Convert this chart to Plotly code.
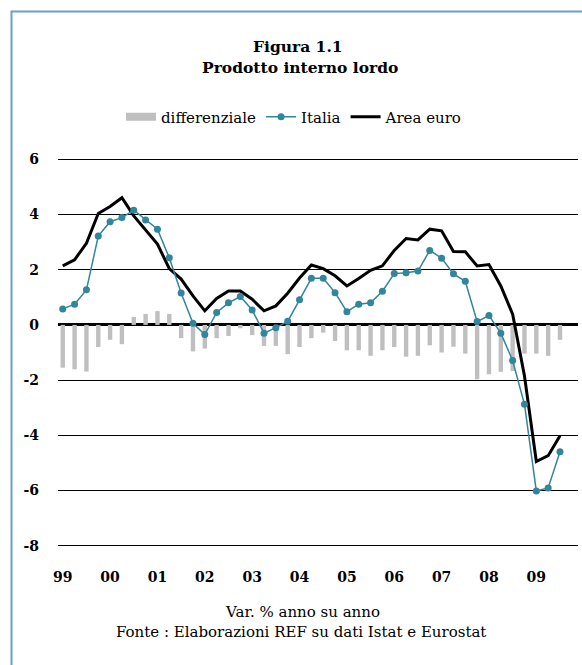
import plotly.graph_objects as go

years = ["99", "00", "01", "02", "03", "04", "05", "06", "07", "08", "09"]
quarters = [f"{y}-T{q}" for y in years for q in (1, 2, 3, 4)][:43]

italia = [0.58, 0.75, 1.27, 3.22, 3.74, 3.89, 4.16, 3.80, 3.47, 2.43, 1.16, 0.06,
          -0.35, 0.45, 0.80, 1.03, 0.54, -0.30, -0.10, 0.13, 0.91, 1.69, 1.69, 1.17,
          0.48, 0.75, 0.80, 1.22, 1.86, 1.89, 1.95, 2.70, 2.42, 1.85, 1.58, 0.12,
          0.34, -0.30, -1.29, -2.88, -6.02, -5.91, -4.60]
area_euro = [2.14, 2.36, 2.96, 4.04, 4.29, 4.61, 3.95, 3.43, 2.93, 2.04, 1.66, 1.05,
             0.51, 0.96, 1.23, 1.23, 0.93, 0.51, 0.69, 1.15, 1.70, 2.17, 2.04, 1.78,
             1.41, 1.68, 1.98, 2.14, 2.70, 3.13, 3.08, 3.47, 3.41, 2.66, 2.65, 2.14,
             2.19, 1.41, 0.39, -1.85, -4.95, -4.74, -4.02]
differenziale = [-1.55, -1.61, -1.69, -0.80, -0.54, -0.70, 0.29, 0.40, 0.50, 0.40, -0.48, -0.96,
                 -0.86, -0.48, -0.40, -0.12, -0.37, -0.76, -0.76, -1.06, -0.80, -0.48, -0.28, -0.58,
                 -0.92, -0.92, -1.12, -0.92, -0.80, -1.15, -1.12, -0.74, -1.00, -0.79, -1.04, -1.97,
                 -1.79, -1.70, -1.67, -1.04, -1.04, -1.12, -0.54]

y_ticks = [6, 4, 2, 0, -2, -4, -6, -8]
y_ticktext = ["6", "4", "2", "0", "-2", "-4", "-6", "-8"]

TEAL = "#31859C"
GRAY = "#BFBFBF"
SERIF = "DejaVu Serif"

W, H = 582, 665
ML, MR, MT, MB = 58, 4, 158, 118
PW, PH = W - ML - MR, H - MT - MB

def px(x):
    return (x - ML) / PW

def py(y):
    return (H - MB - y) / PH

fig = go.Figure()
fig.add_trace(go.Bar(x=quarters, y=differenziale, marker=dict(color=GRAY, line=dict(width=0)),
                     width=0.37, showlegend=False, name="differenziale"))
# legend proxy for bars (wide grey patch)
fig.add_trace(go.Scatter(x=[None], y=[None], mode="lines", line=dict(color=GRAY, width=8),
                         name="differenziale", legendrank=1))
fig.add_trace(go.Scatter(x=quarters, y=area_euro, mode="lines", line=dict(color="black", width=3),
                         name="Area euro", legendrank=3))
fig.add_trace(go.Scatter(x=quarters, y=italia, mode="lines+markers",
                         line=dict(color=TEAL, width=1.5), marker=dict(color=TEAL, size=7),
                         name="Italia", legendrank=2))

fig.update_layout(
    width=W, height=H,
    margin=dict(l=ML, r=MR, t=MT, b=MB),
    paper_bgcolor="white", plot_bgcolor="white",
    font=dict(family=SERIF, color="black", size=15),
    bargap=0.6,
    legend=dict(orientation="h", x=px(294), xanchor="center", y=py(117), yanchor="middle",
                font=dict(family=SERIF, size=15), itemwidth=30, tracegroupgap=0,
                bgcolor="rgba(0,0,0,0)"),
    xaxis=dict(
        type="category", categoryorder="array", categoryarray=quarters,
        range=[-0.40, 43.52],
        tickvals=[quarters[i] for i in range(0, 43, 4)], ticktext=years,
        showgrid=False, zeroline=False, showline=False, ticks="",
        tickfont=dict(family=SERIF, size=14, weight="bold"),
        ticklabelstandoff=20,
    ),
    yaxis=dict(
        range=[-8.05, 6.05], tickvals=y_ticks, ticktext=y_ticktext,
        showgrid=True, gridcolor="black", gridwidth=1.3,
        zeroline=True, zerolinecolor="black", zerolinewidth=2.5,
        showline=False, ticks="",
        tickfont=dict(family=SERIF, size=14, weight="bold"),
        ticklabelstandoff=18,
    ),
    annotations=[
        dict(text="<b>Figura 1.1</b>", x=px(298), y=py(46), xref="paper", yref="paper",
             showarrow=False, font=dict(family=SERIF, size=15.5), xanchor="center", yanchor="middle"),
        dict(text="<b>Prodotto interno lordo</b>", x=px(300), y=py(68), xref="paper", yref="paper",
             showarrow=False, font=dict(family=SERIF, size=15.5), xanchor="center", yanchor="middle"),
        dict(text="Var. % anno su anno", x=px(302), y=py(612), xref="paper", yref="paper",
             showarrow=False, font=dict(family=SERIF, size=15), xanchor="center", yanchor="middle"),
        dict(text="Fonte : Elaborazioni REF su dati Istat e Eurostat", x=px(301), y=py(632),
             xref="paper", yref="paper", showarrow=False, font=dict(family=SERIF, size=15),
             xanchor="center", yanchor="middle"),
    ],
    shapes=[
        dict(type="path", xref="paper", yref="paper",
             path=f"M {px(11.5)} {py(670)} L {px(11.5)} {py(11.5)} L {px(590)} {py(11.5)}",
             line=dict(color="#6F9BD1", width=2)),
    ],
)

fig.write_html("out.html")
